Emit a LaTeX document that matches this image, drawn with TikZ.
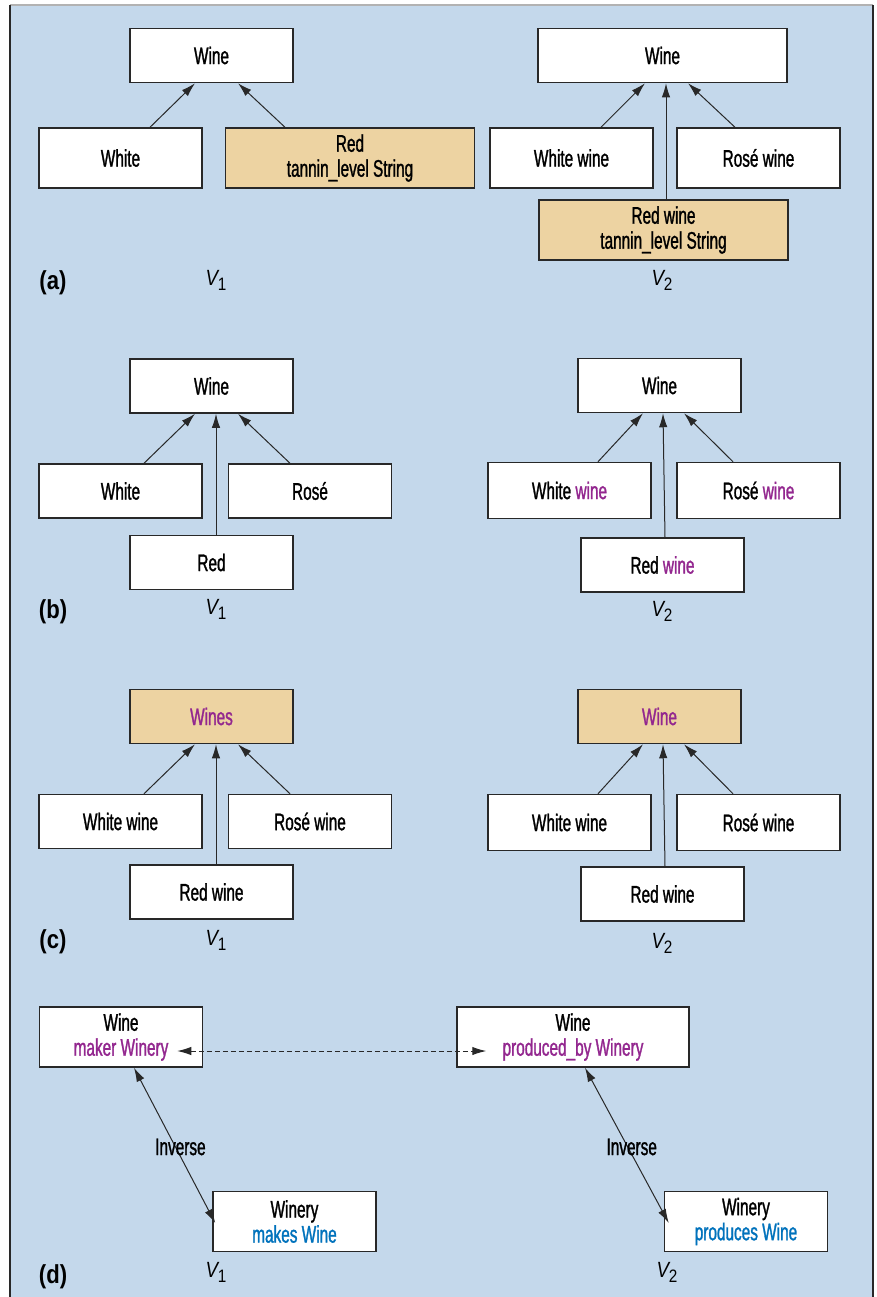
\documentclass[tikz,border=0pt]{standalone}
\usepackage{fontspec}
\setmainfont{Liberation Sans}[FakeStretch=0.64, FakeBold=1.2]
\newfontfamily\lblfont{Liberation Sans}[FakeStretch=0.85]
\usetikzlibrary{arrows.meta}

\definecolor{panelblue}{RGB}{196,216,235}
\definecolor{changedfill}{RGB}{237,211,162}
\definecolor{renamed}{RGB}{147,39,143}
\definecolor{inversecol}{RGB}{0,114,188}
\definecolor{edgecol}{RGB}{40,40,40}

% version label V_n
\newcommand{\ver}[1]{{\lblfont\fontsize{11}{11}\selectfont\itshape V}\raisebox{-2.5pt}{\lblfont\fontsize{9}{9}\selectfont #1}}

\begin{document}
\begin{tikzpicture}[x=0.5pt, y=-0.5pt,
	every node/.style = {font=\fontsize{12}{12.5}\selectfont},
	cls/.style = {draw=edgecol, line width=0.75pt, fill=white, minimum width=81.5pt,
		minimum height=#1, inner sep=1pt, align=center},
	cls/.default = 27pt,
	wide/.style = {minimum width=124.5pt},
	changed/.style = {fill=changedfill},
	tag/.style = {font=\lblfont\fontsize{13}{13}\selectfont\bfseries},
	isa/.style = {-{Latex[length=7pt,width=4.2pt]}, line width=0.5pt, draw=edgecol},
	link/.style = {{Latex[length=7pt,width=4.2pt]}-{Latex[length=7pt,width=4.2pt]}, line width=0.5pt, draw=edgecol}]

	\useasboundingbox (0,0) rectangle (877,1297);
	\fill[panelblue] (10,5) rectangle (873,1297);
	\draw[gray!60, line width=0.6pt] (10,5) -- (873,5);
	\draw[edgecol, line width=0.7pt] (10,1297) -- (10,5) (873,5) -- (873,1297);

	% (a)
	\node[cls] (aWineL) at (211.5,55.5) {Wine};
	\node[cls=30pt] (aWhiteL) at (120.5,158) {White};
	\node[cls=30pt, wide, changed] (aRedL) at (350,158) {Red\\tannin\_level String};
	\node[cls, wide] (aWineR) at (662.5,55.5) {Wine};
	\node[cls=30pt] (aWhiteR) at (571.5,158) {White wine};
	\node[cls=30pt] (aRoseR) at (758.5,158) {Rosé wine};
	\node[cls=30pt, wide, changed] (aRedR) at (663.5,230) {Red wine\\tannin\_level String};
	\node[tag] (aTag) at (53,283) {(a)};
	\node (aV1) at (216,280) {\ver{1}};
	\node (aV2) at (662,280) {\ver{2}};
	\draw[isa] ([xshift=14.75pt]aWhiteL.north) -- ([xshift=-8.25pt]aWineL.south);
	\draw[isa] ([xshift=-32.5pt]aRedL.north) -- ([xshift=13.25pt]aWineL.south);
	\draw[isa] ([xshift=14.75pt]aWhiteR.north) -- ([xshift=-8.75pt]aWineR.south);
	\draw[isa] ([xshift=1.25pt]aRedR.north) -- ([xshift=1.75pt]aWineR.south);
	\draw[isa] ([xshift=-11.75pt]aRoseR.north) -- ([xshift=12.75pt]aWineR.south);

	% (b)
	\node[cls] (bWineL) at (211.5,386) {Wine};
	\node[cls] (bWhiteL) at (120.5,491) {White};
	\node[cls] (bRoseL) at (310,491) {Rosé};
	\node[cls] (bRedL) at (211.5,562.5) {Red};
	\node[cls] (bWineR) at (659.5,385.5) {Wine};
	\node[cls=28pt] (bWhiteR) at (569.5,490.5) {White \textcolor{renamed}{wine}};
	\node[cls=28pt] (bRoseR) at (758.5,490.5) {Rosé \textcolor{renamed}{wine}};
	\node[cls] (bRedR) at (662.5,565) {Red \textcolor{renamed}{wine}};
	\node[tag] (bTag) at (53,612) {(b)};
	\node (bV1) at (216,609) {\ver{1}};
	\node (bV2) at (662,611) {\ver{2}};
	\draw[isa] ([xshift=11.75pt]bWhiteL.north) -- ([xshift=-8.25pt]bWineL.south);
	\draw[isa] ([xshift=2.25pt]bRedL.north) -- ([xshift=2.25pt]bWineL.south);
	\draw[isa] ([xshift=-10pt]bRoseL.north) -- ([xshift=13.25pt]bWineL.south);
	\draw[isa] ([xshift=14.25pt]bWhiteR.north) -- ([xshift=-8.25pt]bWineR.south);
	\draw[isa] ([xshift=1.25pt]bRedR.north) -- ([xshift=1.75pt]bWineR.south);
	\draw[isa] ([xshift=-12.75pt]bRoseR.north) -- ([xshift=12.25pt]bWineR.south);

	% (c)
	\node[cls, changed] (cWineL) at (211.5,716.5) {\textcolor{renamed}{Wines}};
	\node[cls] (cWhiteL) at (120.5,821.5) {White wine};
	\node[cls] (cRoseL) at (310,821.5) {Rosé wine};
	\node[cls] (cRedL) at (211.5,892) {Red wine};
	\node[cls, changed] (cWineR) at (659.5,716.5) {\textcolor{renamed}{Wine}};
	\node[cls=28pt] (cWhiteR) at (569.5,822.5) {White wine};
	\node[cls=28pt] (cRoseR) at (758.5,822.5) {Rosé wine};
	\node[cls] (cRedR) at (662.5,894) {Red wine};
	\node[tag] (cTag) at (53,942) {(c)};
	\node (cV1) at (216,940) {\ver{1}};
	\node (cV2) at (662,943) {\ver{2}};
	\draw[isa] ([xshift=11.75pt]cWhiteL.north) -- ([xshift=-8.25pt]cWineL.south);
	\draw[isa] ([xshift=2.25pt]cRedL.north) -- ([xshift=2.25pt]cWineL.south);
	\draw[isa] ([xshift=-10pt]cRoseL.north) -- ([xshift=13.25pt]cWineL.south);
	\draw[isa] ([xshift=14.25pt]cWhiteR.north) -- ([xshift=-8.25pt]cWineR.south);
	\draw[isa] ([xshift=1.25pt]cRedR.north) -- ([xshift=1.75pt]cWineR.south);
	\draw[isa] ([xshift=-12.75pt]cRoseR.north) -- ([xshift=12.25pt]cWineR.south);

	% (d)
	\node[cls=30pt] (dWineL) at (121,1037) {Wine\\\textcolor{renamed}{maker Winery}};
	\node[cls=30pt, minimum width=116pt] (dWineR) at (573,1037) {Wine\\\textcolor{renamed}{produced\_by Winery}};
	\node[cls=30pt] (dWineryL) at (294.5,1221.5) {Winery\\\textcolor{inversecol}{makes Wine}};
	\node[cls=30pt] (dWineryR) at (746,1221.5) {Winery\\\textcolor{inversecol}{produces Wine}};
	\node[tag] (dTag) at (53,1277) {(d)};
	\node (dV1) at (216,1272) {\ver{1}};
	\node (dV2) at (667,1272) {\ver{2}};
	\draw[link, dashed, dash pattern=on 2.5pt off 1.5pt] ([xshift=-13pt,yshift=-7pt]dWineL.east) -- ([xshift=15pt,yshift=-7pt]dWineR.west);
	\draw[link] ([xshift=6.5pt]dWineL.south) -- node[pos=.51, xshift=2.5pt] (dInvL) {Inverse} ([xshift=1.5pt,yshift=-0.75pt]dWineryL.west);
	\draw[link] ([xshift=6pt]dWineR.south) -- node[pos=.51, xshift=2pt] (dInvR) {Inverse} ([xshift=2.5pt,yshift=-0.75pt]dWineryR.west);
\end{tikzpicture}
\end{document}
